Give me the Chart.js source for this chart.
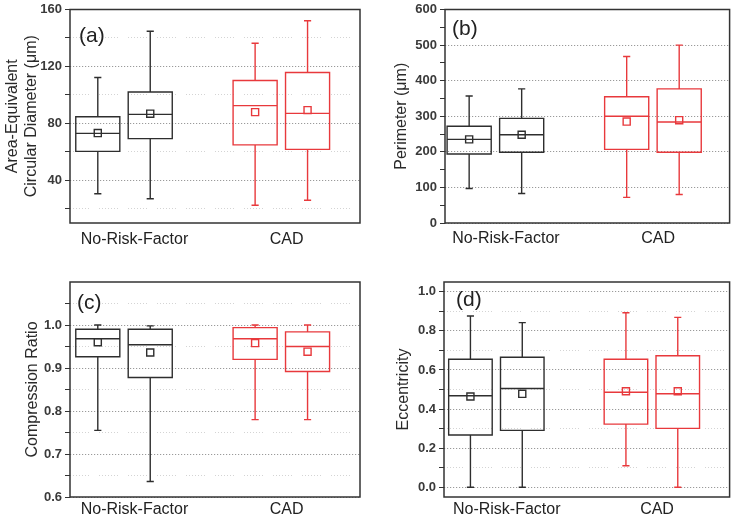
<!DOCTYPE html>
<html>
<head>
<meta charset="utf-8">
<script src="https://cdn.jsdelivr.net/npm/chart.js"></script>
<style>
  body { margin: 0; background: #fff; }
  .panel { position: absolute; width: 368px; height: 259px; }
</style>
</head>
<body>
<div class="panel" style="left:0;top:0"><canvas id="panelA" width="368" height="259"></canvas></div>
<div class="panel" style="left:368px;top:0"><canvas id="panelB" width="368" height="259"></canvas></div>
<div class="panel" style="left:0;top:259px"><canvas id="panelC" width="368" height="259"></canvas></div>
<div class="panel" style="left:368px;top:259px"><canvas id="panelD" width="368" height="259"></canvas></div>
<script>
'use strict';

const groups = ['No-Risk-Factor', 'CAD'];
const groupPos = [1.7, 4.6];
const boxPos = [1, 2, 4, 5];

// (a) area-equivalent circular diameter
const aMin = [30.6, 27.0, 22.5, 26.0];
const aQ1 = [60.3, 69.3, 64.9, 61.7];
const aMed = [73.0, 86.3, 92.5, 87.0];
const aQ3 = [84.6, 102.0, 110.1, 115.7];
const aMax = [112.2, 144.7, 136.3, 152.1];
const aMean = [73.2, 86.8, 87.9, 89.3];
const aTicks = [20, 40, 60, 80, 100, 120, 140, 160];
const aLabels = ['', '40', '', '80', '', '120', '', '160'];

// (b) perimeter
const bMin = [97, 83, 72, 80];
const bQ1 = [194, 199, 207, 199];
const bMed = [235, 248, 300, 284];
const bQ3 = [272, 294, 355, 377];
const bMax = [357, 377, 468, 500];
const bMean = [235, 248, 285, 289];
const bTicks = [0, 50, 100, 150, 200, 250, 300, 350, 400, 450, 500, 550, 600];
const bLabels = ['0', '', '100', '', '200', '', '300', '', '400', '', '500', '', '600'];

// (c) compression ratio
const cMin = [0.755, 0.636, 0.78, 0.78];
const cQ1 = [0.926, 0.878, 0.92, 0.892];
const cMed = [0.968, 0.954, 0.968, 0.95];
const cQ3 = [0.99, 0.99, 0.994, 0.984];
const cMax = [1.0, 0.998, 1.0, 1.0];
const cMean = [0.96, 0.936, 0.958, 0.938];
const cTicks = [0.6, 0.65, 0.7, 0.75, 0.8, 0.85, 0.9, 0.95, 1.0, 1.05];
const cLabels = ['0.6', '', '0.7', '', '0.8', '', '0.9', '', '1.0', ''];

// (d) eccentricity
const dMin = [0, 0, 0.11, 0];
const dQ1 = [0.267, 0.291, 0.323, 0.301];
const dMed = [0.468, 0.505, 0.486, 0.478];
const dQ3 = [0.655, 0.665, 0.655, 0.673];
const dMax = [0.876, 0.842, 0.893, 0.869];
const dMean = [0.464, 0.478, 0.491, 0.491];
const dTicks = [0, 0.1, 0.2, 0.3, 0.4, 0.5, 0.6, 0.7, 0.8, 0.9, 1.0];
const dLabels = ['0.0', '', '0.2', '', '0.4', '', '0.6', '', '0.8', '', '1.0'];

const FONT = "'Liberation Sans', Arial, sans-serif";
const boxColors = ['#2e2e2e', '#2e2e2e', '#e8393c', '#e8393c'];
const BOX_HALF = 0.42;
const CAP_HALF = 0.055;

// box outline, median, whiskers and caps as one broken polyline
function boxPath(x, lo, q1, med, q3, hi) {
  const gap = {x: x, y: null};
  return [
    {x: x - BOX_HALF, y: q1}, {x: x + BOX_HALF, y: q1}, {x: x + BOX_HALF, y: q3},
    {x: x - BOX_HALF, y: q3}, {x: x - BOX_HALF, y: q1}, gap,
    {x: x - BOX_HALF, y: med}, {x: x + BOX_HALF, y: med}, gap,
    {x: x, y: lo}, {x: x, y: q1}, gap,
    {x: x, y: q3}, {x: x, y: hi}, gap,
    {x: x - CAP_HALF, y: lo}, {x: x + CAP_HALF, y: lo}, gap,
    {x: x - CAP_HALF, y: hi}, {x: x + CAP_HALF, y: hi}
  ];
}

const framePlugin = {
  id: 'frame',
  afterDraw(chart, args, opts) {
    const {ctx, chartArea: a} = chart;
    ctx.save();
    ctx.strokeStyle = '#333';
    ctx.lineWidth = 1.5;
    ctx.strokeRect(a.left, a.top, a.right - a.left, a.bottom - a.top);
    ctx.fillStyle = '#222';
    ctx.font = '21px ' + FONT;
    ctx.textBaseline = 'middle';
    ctx.fillText(opts.letter, a.left + opts.dx, a.top + opts.dy);
    ctx.restore();
  }
};

function makePanel(id, p) {
  const datasets = boxPos.map((x, i) => ({
    data: boxPath(x, p.lo[i], p.q1[i], p.med[i], p.q3[i], p.hi[i]),
    showLine: true,
    spanGaps: false,
    borderColor: boxColors[i],
    borderWidth: 1.4,
    borderCapStyle: 'square',
    borderJoinStyle: 'miter',
    pointRadius: 0
  }));
  datasets.push({
    data: boxPos.map((x, i) => ({x: x, y: p.mean[i]})),
    showLine: false,
    pointStyle: 'rect',
    pointRadius: 5,
    pointBorderWidth: 1.4,
    pointBorderColor: boxColors,
    pointBackgroundColor: 'rgba(0,0,0,0)'
  });

  new Chart(document.getElementById(id), {
    type: 'scatter',
    data: {datasets: datasets},
    plugins: [framePlugin],
    options: {
      responsive: false,
      animation: false,
      devicePixelRatio: 1,
      layout: {padding: {left: 0, top: p.padTop, right: p.padRight, bottom: 0}},
      plugins: {
        legend: {display: false},
        tooltip: {enabled: false},
        frame: {letter: p.letter, dx: p.letterDx, dy: p.letterDy}
      },
      scales: {
        x: {
          type: 'linear',
          min: p.xMin,
          max: p.xMax,
          afterBuildTicks: s => { s.ticks = groupPos.map(v => ({value: v})); },
          afterFit: s => { s.height = p.xAxisH; },
          grid: {display: false, drawTicks: false},
          border: {display: false},
          ticks: {
            autoSkip: false,
            maxRotation: 0,
            padding: p.labelPad,
            color: '#222',
            font: {family: FONT, size: 16},
            callback: (v, i) => groups[i]
          }
        },
        y: {
          min: p.yMin,
          max: p.yMax,
          afterBuildTicks: s => { s.ticks = p.ticks.map(v => ({value: v})); },
          afterFit: s => { s.width = p.yAxisW; },
          grid: {
            color: c => p.labels[c.index] ? '#9a9a9a' : p.minorGrid,
            tickColor: '#333',
            tickLength: 5,
            lineWidth: 1
          },
          border: {
            display: false,
            dash: c => p.labels[c.index] ? [1.2, 1.8] : [1, 2, 1, 2, 1, 2, 1, 2, 1, 2, 1, 2, 1, 10]
          },
          ticks: {
            autoSkip: false,
            padding: 3,
            color: '#3a3a3a',
            font: {family: FONT, size: 13, weight: 'bold', lineHeight: 1},
            callback: (v, i) => p.labels[i]
          },
          title: {
            display: true,
            text: p.title,
            color: '#2a2a2a',
            font: {family: FONT, size: 16},
            padding: {top: p.titlePad, bottom: 0}
          }
        }
      }
    }
  });
}

makePanel('panelA', {
  lo: aMin, q1: aQ1, med: aMed, q3: aQ3, hi: aMax, mean: aMean,
  ticks: aTicks, labels: aLabels, yMin: 10, yMax: 160, xMin: 0.47, xMax: 6.0,
  title: ['Area-Equivalent', 'Circular Diameter (\u03bcm)'], titlePad: 3,
  yAxisW: 70, xAxisH: 36, padTop: 7, padRight: 8, labelPad: 7,
  minorGrid: '#d4d4d4', letter: '(a)', letterDx: 9, letterDy: 27
});

makePanel('panelB', {
  lo: bMin, q1: bQ1, med: bMed, q3: bQ3, hi: bMax, mean: bMean,
  ticks: bTicks, labels: bLabels, yMin: 0, yMax: 600, xMin: 0.54, xMax: 5.96,
  title: 'Perimeter (\u03bcm)', titlePad: 24,
  yAxisW: 77, xAxisH: 36, padTop: 7, padRight: 4, labelPad: 6,
  minorGrid: 'rgba(0,0,0,0)', letter: '(b)', letterDx: 7, letterDy: 20
});

makePanel('panelC', {
  lo: cMin, q1: cQ1, med: cMed, q3: cQ3, hi: cMax, mean: cMean,
  ticks: cTicks, labels: cLabels, yMin: 0.6, yMax: 1.1, xMin: 0.47, xMax: 6.0,
  title: 'Compression Ratio', titlePad: 23,
  yAxisW: 70, xAxisH: 21, padTop: 23, padRight: 8, labelPad: 3,
  minorGrid: '#d4d4d4', letter: '(c)', letterDx: 7, letterDy: 21
});

makePanel('panelD', {
  lo: dMin, q1: dQ1, med: dMed, q3: dQ3, hi: dMax, mean: dMean,
  ticks: dTicks, labels: dLabels, yMin: -0.05, yMax: 1.05, xMin: 0.49, xMax: 6.0,
  title: 'Eccentricity', titlePad: 26,
  yAxisW: 76, xAxisH: 21, padTop: 23, padRight: 3, labelPad: 3,
  minorGrid: '#d4d4d4', letter: '(d)', letterDx: 12, letterDy: 18
});
</script>
</body>
</html>
